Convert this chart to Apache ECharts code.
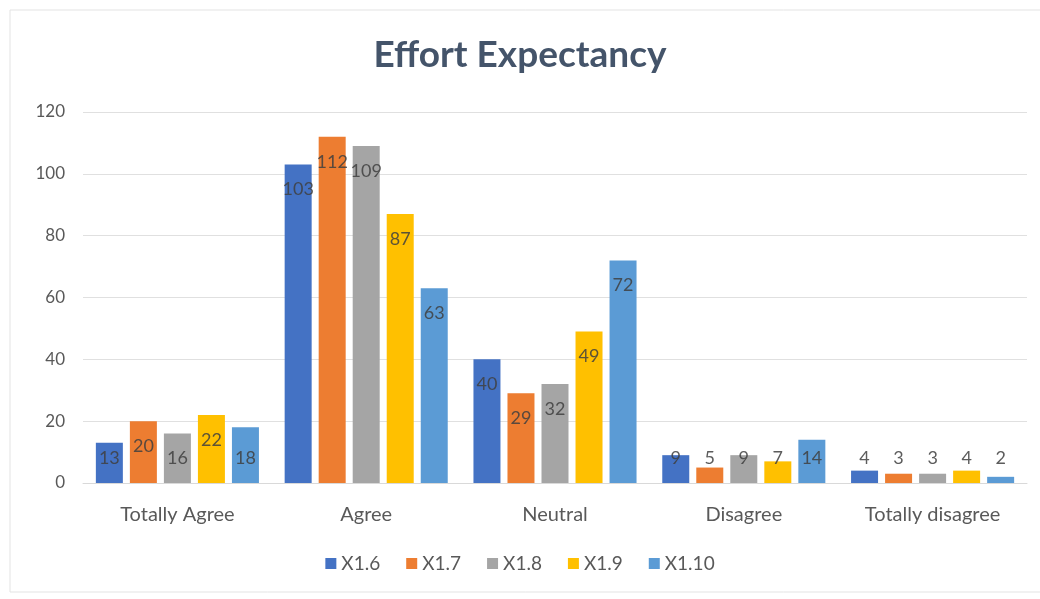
<!DOCTYPE html>
<html><head><meta charset="utf-8">
<script src="https://cdn.jsdelivr.net/npm/echarts@6/dist/echarts.min.js"></script>
<style>html,body{margin:0;padding:0;background:#fff}#c{width:1040px;height:599px}</style>
</head><body><div id="c"></div>
<script>
const categories = ['Totally Agree', 'Agree', 'Neutral', 'Disagree', 'Totally disagree'];
const seriesNames = ['X1.6', 'X1.7', 'X1.8', 'X1.9', 'X1.10'];
const x16 = [13, 103, 40, 9, 4];
const x17 = [20, 112, 29, 5, 3];
const x18 = [16, 109, 32, 9, 3];
const x19 = [22, 87, 49, 7, 4];
const x110 = [18, 63, 72, 14, 2];
const yTicks = [0, 20, 40, 60, 80, 100, 120];

const colors = ['#4472C4', '#ED7D31', '#A5A5A5', '#FFC000', '#5B9BD5'];
const values = [x16, x17, x18, x19, x110];
const font = 'Lato, "Open Sans", sans-serif';

const chart = echarts.init(document.getElementById('c'));
chart.setOption({
  animation: false,
  graphic: [{type: 'rect', shape: {x: 10, y: 10, width: 1040, height: 582}, style: {fill: 'none', stroke: '#e3e3e3', lineWidth: 1}}],
  title: {text: 'Effort Expectancy', left: 'center', top: 32,
    textStyle: {fontFamily: font, fontWeight: 'bold', fontSize: 37, color: '#44546A'}},
  legend: {data: seriesNames, bottom: 21, left: 'center', itemWidth: 11, itemHeight: 11, itemGap: 26, icon: 'rect',
    textStyle: {fontFamily: font, fontSize: 19, color: '#595959'}},
  grid: {left: 83, right: 13, top: 112, bottom: 116},
  xAxis: {type: 'category', data: categories,
    axisLine: {lineStyle: {color: '#d9d9d9'}}, axisTick: {show: false},
    axisLabel: {fontFamily: font, fontSize: 20, color: '#595959', margin: 22}},
  yAxis: {type: 'value', min: yTicks[0], max: yTicks[yTicks.length - 1], interval: 20,
    axisLine: {show: false}, axisTick: {show: false},
    splitLine: {lineStyle: {color: '#e0e0e0'}},
    axisLabel: {fontFamily: font, fontSize: 17, color: '#595959', margin: 18}},
  series: seriesNames.map((n, i) => ({
    name: n, type: 'bar', barWidth: 27, barGap: '26%',
    itemStyle: {color: colors[i]},
    data: values[i].map(v => ({value: v,
      label: v >= 20 ? {position: 'insideTop', distance: 16} : {position: 'insideBottom', distance: 16}})),
    label: {show: true, fontFamily: font, fontSize: 18, color: 'rgba(64,64,64,0.85)'}
  }))
});
</script></body></html>
